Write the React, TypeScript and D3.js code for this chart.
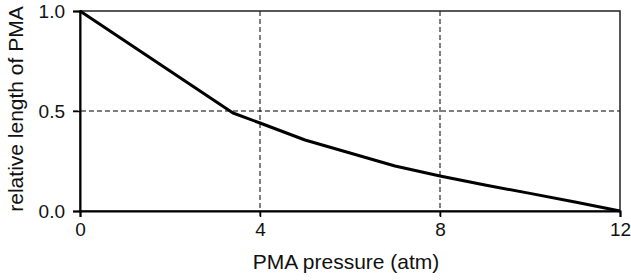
import { useEffect, useRef } from 'react'
import * as d3 from 'd3'

const pressure = [0, 3.4, 4, 5, 6, 7, 8, 9, 10, 11, 12]
const relLength = [1.0, 0.49, 0.44, 0.355, 0.29, 0.225, 0.175, 0.13, 0.088, 0.045, 0.0]
const xTicks = [0, 4, 8, 12]
const yTicks = [0, 0.5, 1.0]

const WIDTH = 631
const HEIGHT = 280
const MARGIN = { top: 11, right: 11, bottom: 69, left: 80 }

export default function App() {
  const svgRef = useRef<SVGSVGElement>(null)

  useEffect(() => {
    const svg = svgRef.current
    if (!svg) return
    d3.select(svg).selectAll('*').remove()

    const innerW = WIDTH - MARGIN.left - MARGIN.right
    const innerH = HEIGHT - MARGIN.top - MARGIN.bottom
    const font = 'Liberation Sans, Arial, sans-serif'

    const g = d3.select(svg)
      .append('g')
      .attr('transform', `translate(${MARGIN.left},${MARGIN.top})`)

    const x = d3.scaleLinear().domain([0, 12]).range([0, innerW])
    const y = d3.scaleLinear().domain([0, 1]).range([innerH, 0])

    // grid lines (dashed)
    g.append('g')
      .selectAll('line')
      .data(xTicks.filter(t => t > 0 && t < 12))
      .join('line')
      .attr('x1', d => x(d)).attr('x2', d => x(d))
      .attr('y1', 0).attr('y2', innerH + 6)
      .attr('stroke', '#000')
      .attr('stroke-width', 1)
      .attr('stroke-dasharray', '5,3')

    g.append('g')
      .selectAll('line')
      .data(yTicks.filter(t => t > 0 && t < 1))
      .join('line')
      .attr('x1', -7).attr('x2', innerW)
      .attr('y1', d => y(d)).attr('y2', d => y(d))
      .attr('stroke', '#000')
      .attr('stroke-width', 1)
      .attr('stroke-dasharray', '5,3')

    // frame
    g.append('rect')
      .attr('x', 0).attr('y', 0)
      .attr('width', innerW).attr('height', innerH)
      .attr('fill', 'none')
      .attr('stroke', '#222')
      .attr('stroke-width', 1.5)

    // x axis
    g.append('g')
      .attr('transform', `translate(0,${innerH})`)
      .call(d3.axisBottom(x).tickValues(xTicks).tickSize(6).tickPadding(6).tickFormat(d3.format('d')))
      .call(sel => sel.select('.domain').attr('stroke', '#000').attr('stroke-width', 2))
      .call(sel => sel.selectAll('line').attr('stroke', '#000').attr('stroke-width', 1.5))
      .call(sel => sel.selectAll('text').attr('fill', '#111').style('font-size', '19px').style('font-family', font))

    // y axis
    g.append('g')
      .call(d3.axisLeft(y).tickValues(yTicks).tickSize(7).tickPadding(8).tickFormat(d3.format('.1f')))
      .call(sel => sel.select('.domain').attr('stroke', '#000').attr('stroke-width', 2))
      .call(sel => sel.selectAll('line').attr('stroke', '#000').attr('stroke-width', 1.5))
      .call(sel => sel.selectAll('text').attr('fill', '#111').style('font-size', '19px').style('font-family', font))

    // data line
    const line = d3.line<number>()
      .x((_, i) => x(pressure[i]))
      .y(d => y(d))

    g.append('path')
      .datum(relLength)
      .attr('fill', 'none')
      .attr('stroke', '#000')
      .attr('stroke-width', 3)
      .attr('stroke-linejoin', 'round')
      .attr('d', line)

    // axis titles
    d3.select(svg).append('text')
      .attr('x', MARGIN.left + innerW / 2 - 4)
      .attr('y', 269)
      .attr('text-anchor', 'middle')
      .attr('fill', '#111')
      .style('font-size', '21px')
      .style('font-family', font)
      .text('PMA pressure (atm)')

    d3.select(svg).append('text')
      .attr('transform', `translate(23,${MARGIN.top + innerH / 2 - 2}) rotate(-90)`)
      .attr('text-anchor', 'middle')
      .attr('fill', '#111')
      .style('font-size', '21px')
      .style('font-family', font)
      .text('relative length of PMA')
  }, [])

  return (
    <svg
      ref={svgRef}
      width={WIDTH}
      height={HEIGHT}
      style={{ position: 'absolute', left: 0, top: 0, background: '#fff' }}
    />
  )
}
